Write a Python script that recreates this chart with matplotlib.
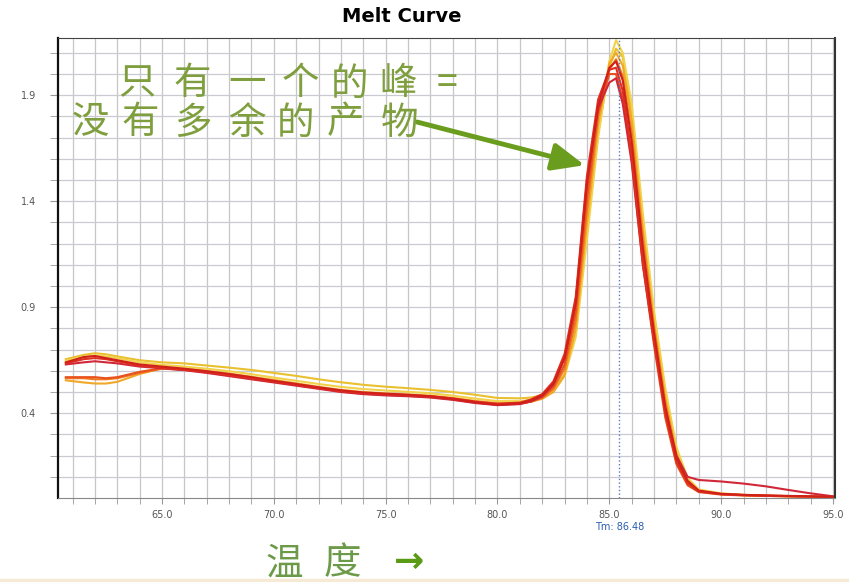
import numpy as np
import matplotlib
matplotlib.use("Agg")
import matplotlib.pyplot as plt

plt.rcParams['font.family'] = ['Noto Sans CJK SC', 'DejaVu Sans']

# temperature points (deg C)
temps = [60.7, 61.5, 62.0, 62.5, 63.0, 64.0, 65.0, 66.0, 67.0, 68.0, 69.0, 70.0,
         71.0, 72.0, 73.0, 74.0, 75.0, 76.0, 77.0, 78.0, 79.0, 80.0, 81.0, 81.5,
         82.0, 82.5, 83.0, 83.5, 84.0, 84.5, 85.0, 85.3, 85.6, 86.0, 86.5, 87.0,
         87.5, 88.0, 88.5, 89.0, 90.0, 91.0, 92.0, 93.0, 94.0, 95.0]

# -dF/dT for each well
well_yellow_hi = [0.655, 0.675, 0.683, 0.678, 0.668, 0.65, 0.64, 0.635, 0.625, 0.615, 0.604, 0.59,
                  0.576, 0.56, 0.546, 0.534, 0.525, 0.518, 0.51, 0.5, 0.487, 0.472, 0.47, 0.474,
                  0.485, 0.51, 0.585, 0.78, 1.25, 1.72, 2.03, 2.12, 2.08, 1.82, 1.3, 0.86,
                  0.5, 0.23, 0.09, 0.035, 0.02, 0.014, 0.011, 0.009, 0.007, 0.005]
well_yellow_lt = [0.648, 0.665, 0.672, 0.668, 0.66, 0.64, 0.628, 0.62, 0.61, 0.598, 0.584, 0.568,
                  0.553, 0.538, 0.524, 0.514, 0.507, 0.501, 0.494, 0.483, 0.469, 0.457, 0.457, 0.462,
                  0.474, 0.503, 0.575, 0.76, 1.22, 1.7, 2.06, 2.16, 2.1, 1.86, 1.34, 0.88,
                  0.52, 0.24, 0.095, 0.04, 0.022, 0.015, 0.011, 0.009, 0.007, 0.005]
well_gold = [0.555, 0.545, 0.54, 0.54, 0.548, 0.585, 0.612, 0.61, 0.6, 0.587, 0.572, 0.557,
             0.541, 0.525, 0.51, 0.5, 0.494, 0.489, 0.483, 0.472, 0.458, 0.447, 0.448, 0.454,
             0.468, 0.5, 0.58, 0.8, 1.3, 1.76, 2.05, 2.1, 2.04, 1.78, 1.26, 0.82,
             0.47, 0.21, 0.085, 0.033, 0.018, 0.013, 0.01, 0.008, 0.006, 0.004]
well_orange = [0.565, 0.565, 0.56, 0.56, 0.565, 0.59, 0.61, 0.605, 0.596, 0.582, 0.566, 0.551,
               0.536, 0.52, 0.506, 0.495, 0.489, 0.484, 0.478, 0.467, 0.452, 0.442, 0.446, 0.455,
               0.472, 0.515, 0.61, 0.84, 1.36, 1.8, 2.02, 2.07, 1.99, 1.72, 1.22, 0.8,
               0.45, 0.2, 0.08, 0.032, 0.018, 0.013, 0.01, 0.008, 0.006, 0.004]
well_orange_red = [0.57, 0.57, 0.57, 0.565, 0.57, 0.595, 0.612, 0.605, 0.592, 0.578, 0.562, 0.548,
                   0.532, 0.518, 0.502, 0.492, 0.486, 0.482, 0.476, 0.465, 0.45, 0.44, 0.444, 0.455,
                   0.475, 0.525, 0.63, 0.88, 1.42, 1.82, 2.0, 2.0, 1.88, 1.6, 1.1, 0.72,
                   0.38, 0.16, 0.06, 0.028, 0.016, 0.012, 0.01, 0.008, 0.006, 0.004]
well_crimson = [0.63, 0.64, 0.645, 0.64, 0.635, 0.62, 0.612, 0.603, 0.59, 0.575, 0.56, 0.545,
                0.53, 0.515, 0.5, 0.49, 0.484, 0.48, 0.474, 0.463, 0.448, 0.438, 0.443, 0.456,
                0.48, 0.535, 0.66, 0.93, 1.5, 1.84, 1.96, 1.98, 1.86, 1.58, 1.1, 0.74,
                0.42, 0.2, 0.1, 0.085, 0.078, 0.068, 0.055, 0.038, 0.022, 0.008]
well_red = [0.635, 0.655, 0.66, 0.655, 0.645, 0.625, 0.615, 0.605, 0.595, 0.58, 0.565, 0.55,
            0.535, 0.52, 0.505, 0.495, 0.49, 0.485, 0.48, 0.47, 0.455, 0.445, 0.45, 0.465,
            0.49, 0.55, 0.68, 0.95, 1.52, 1.88, 2.02, 2.03, 1.92, 1.62, 1.12, 0.74,
            0.4, 0.17, 0.07, 0.03, 0.018, 0.014, 0.011, 0.009, 0.007, 0.005]
well_dark_red = [0.64, 0.665, 0.67, 0.66, 0.65, 0.63, 0.62, 0.61, 0.598, 0.585, 0.57, 0.553,
                 0.538, 0.522, 0.508, 0.498, 0.492, 0.487, 0.48, 0.468, 0.452, 0.44, 0.447, 0.46,
                 0.485, 0.54, 0.66, 0.92, 1.48, 1.85, 2.03, 2.06, 1.97, 1.68, 1.18, 0.78,
                 0.43, 0.19, 0.08, 0.035, 0.02, 0.015, 0.012, 0.01, 0.008, 0.006]

wells = [well_yellow_hi, well_yellow_lt, well_gold, well_orange,
         well_orange_red, well_crimson, well_red, well_dark_red]
well_colors = ['#e8c030', '#f2d24a', '#f0a828', '#f07820',
               '#e8501e', '#d02838', '#e0301e', '#d0201a']

x_major = [65, 70, 75, 80, 85, 90, 95]
y_major = [0.4, 0.9, 1.4, 1.9]
tm_x = 85.45
tm_text = 'Tm: 86.48'

fig = plt.figure(figsize=(8.49, 5.82), dpi=100)
ax = fig.add_axes([58/849, 1-498/582, (835-58)/849, (498-38)/582])

for w, c in zip(wells, well_colors):
    ax.plot(temps, w, color=c, lw=1.5)

ax.axvline(tm_x, color='#5a78c8', ls=':', lw=1.0)

ax.set_xlim(60.35, 95.09)
ax.set_ylim(0.0, 2.17)
ax.set_xticks(x_major)
ax.set_xticklabels(['%.1f' % v for v in x_major])
ax.set_xticks(np.arange(61, 96, 1), minor=True)
ax.set_yticks(y_major)
ax.set_yticklabels(['%.1f' % v for v in y_major])
ax.set_yticks(np.arange(0.1, 2.15, 0.1), minor=True)

ax.grid(True, which='both', axis='x', color='#c6c6c6', lw=0.9)
ax.grid(True, which='both', axis='y', color='#cacad2', lw=0.9)
ax.set_axisbelow(True)

ax.tick_params(which='both', axis='both', color='#999999', labelsize=7, labelcolor='#555555')
ax.tick_params(which='both', axis='x', length=4, pad=5)
ax.tick_params(which='both', axis='y', length=6, pad=10)
for lab in ax.get_xticklabels() + ax.get_yticklabels():
    lab.set_family('DejaVu Sans')

ax.spines['left'].set_linewidth(1.6)
ax.spines['left'].set_color('#111111')
ax.spines['top'].set_color('#444444')
ax.spines['right'].set_color('#333333')
ax.spines['right'].set_linewidth(1.5)
ax.spines['bottom'].set_color('#888888')

# Tm label under the axis
ax.text(tm_x, -0.063, tm_text, transform=ax.get_xaxis_transform(), ha='center', va='center',
        fontsize=7, color='#2a5cb0', family='DejaVu Sans')

fig.text(402/849, 1-17/582, 'Melt Curve', ha='center', va='center', fontsize=14,
         fontweight='bold', family='DejaVu Sans')

# annotation, one char at a time so it spreads like the original
line1 = '只有一个的峰='
line1_x = [137, 192, 247, 300, 350, 398, 447]
line2 = '没有多余的产物'
line2_x = [90, 140, 193, 247, 295, 345, 400]
for ch, px in zip(line1, line1_x):
    fig.text(px/849, 1-84/582, ch, ha='center', va='center', fontsize=27, color='#7f9f3e')
for ch, px in zip(line2, line2_x):
    fig.text(px/849, 1-123/582, ch, ha='center', va='center', fontsize=27, color='#7f9f3e')

ax.annotate('', xy=(83.9, 1.57), xytext=(417/849, 1-122/582), textcoords='figure fraction',
            arrowprops=dict(arrowstyle='-|>,head_length=1.4,head_width=0.6', color='#6a9c1e',
                            lw=3.5, mutation_scale=14, shrinkA=0, shrinkB=0))

# axis caption at the bottom
for ch, px in zip('温度', [284, 342]):
    fig.text(px/849, 1-564/582, ch, ha='center', va='center', fontsize=27, color='#6c9a48')
fig.text(409/849, 1-562/582, '→', ha='center', va='center', fontsize=26, fontweight='bold',
         color='#5a9a14', family='DejaVu Sans')

fig.patches.append(plt.Rectangle((0, 0), 1, 3/582, transform=fig.transFigure,
                                 color='#f6ead4', zorder=0))

fig.savefig('out.png', dpi=100)
